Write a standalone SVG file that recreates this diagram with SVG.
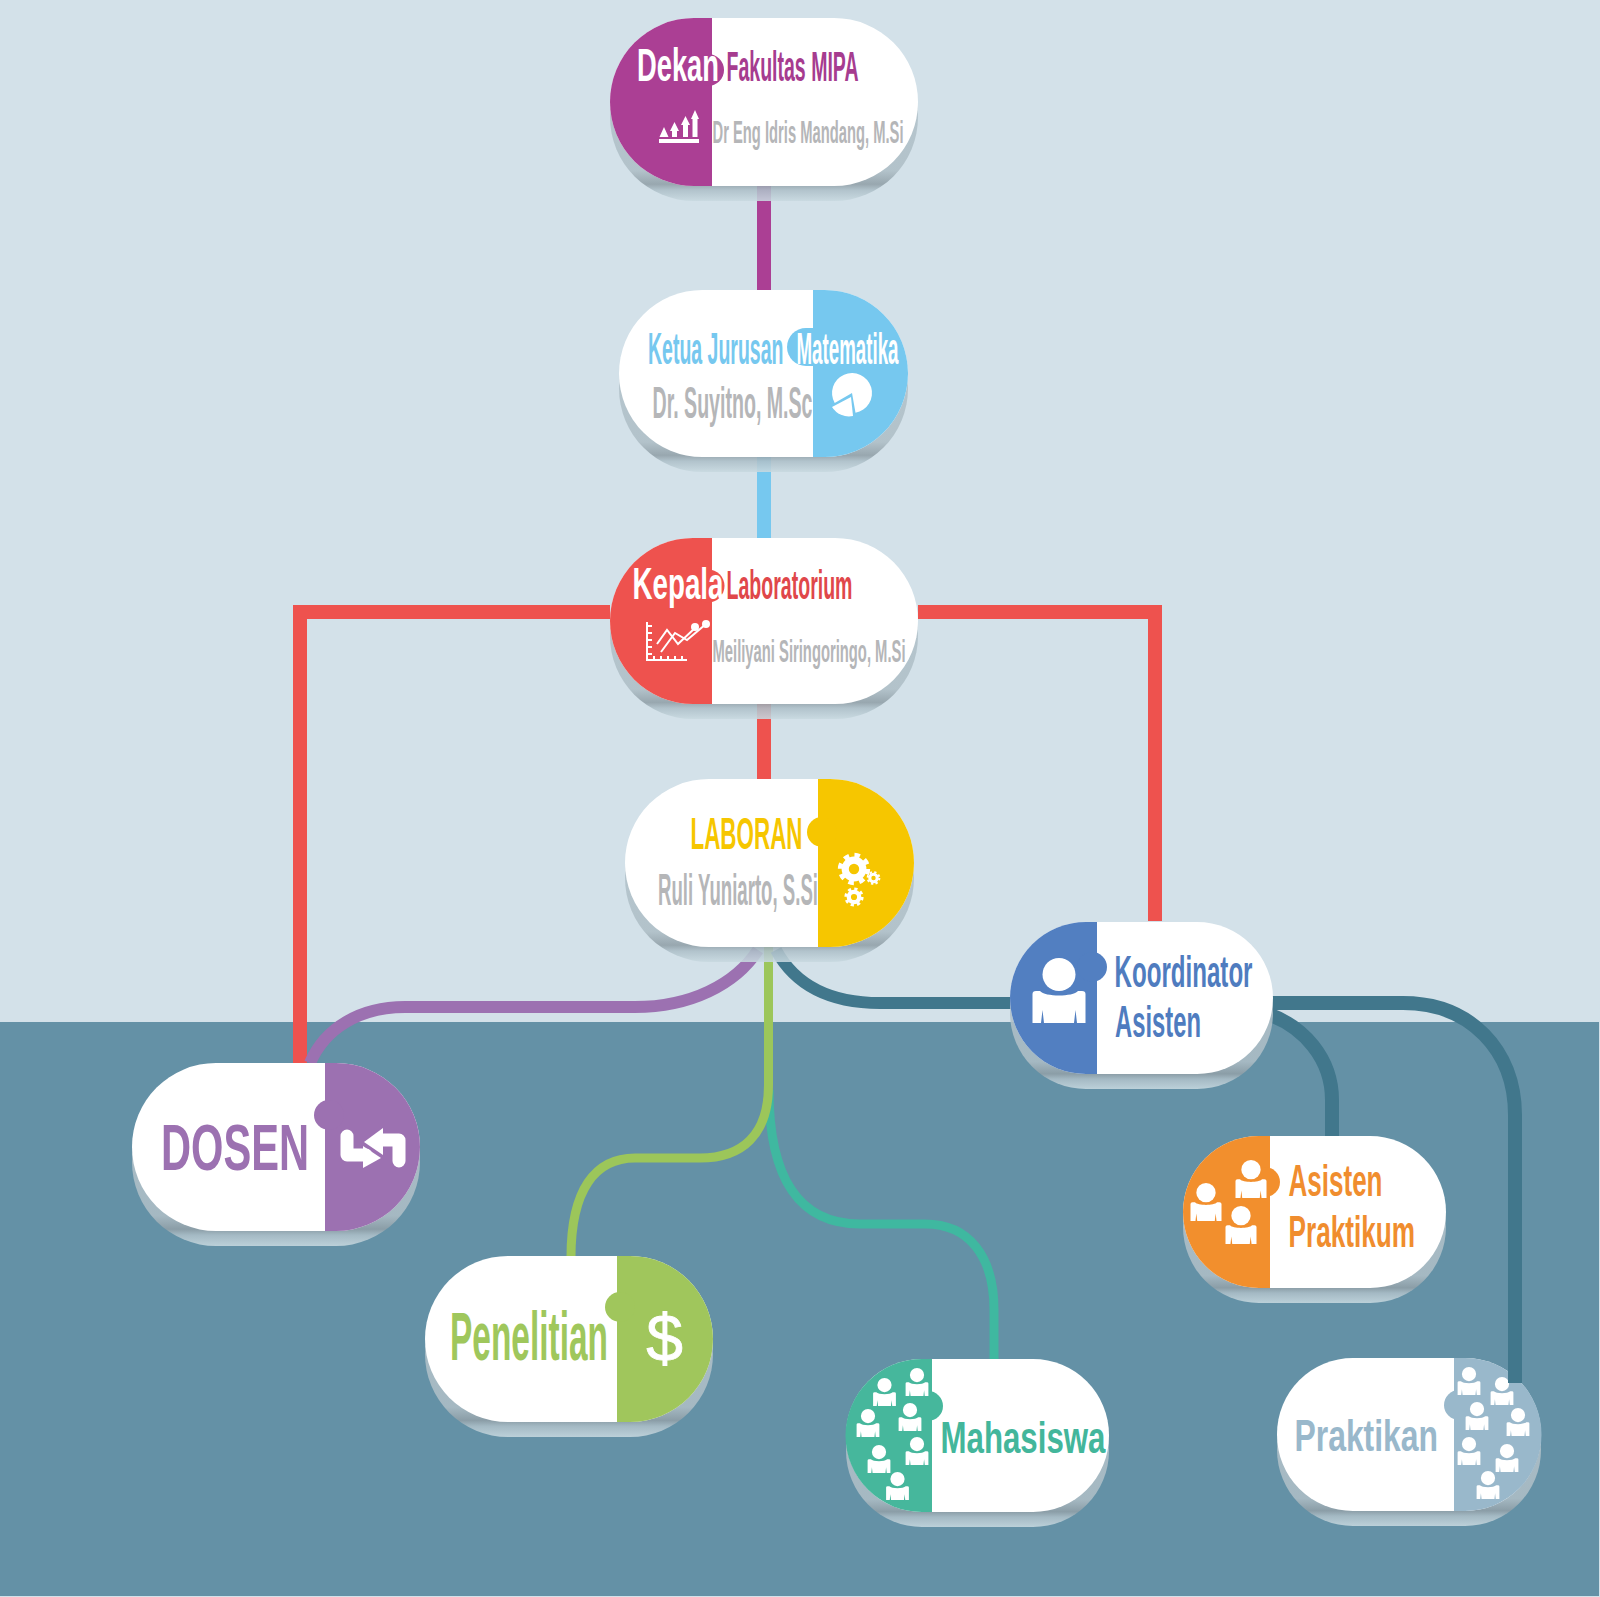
<svg xmlns="http://www.w3.org/2000/svg" xmlns:xlink="http://www.w3.org/1999/xlink" width="1600" height="1597" viewBox="0 0 1600 1597">
<style>
text{font-family:"Liberation Sans",Arial,sans-serif;font-weight:bold}
.w{fill:#fff}
.g{fill:#b5b6b8}
.sh{fill:url(#shade);fill-opacity:.88}
.c{fill:none;stroke-linecap:butt}
</style>
<defs>
<linearGradient id="shade" x1="0" y1="0" x2="0" y2="1">
<stop offset="0" stop-color="#b5c5cd"/><stop offset=".82" stop-color="#aebec6"/><stop offset=".9" stop-color="#909fa7"/><stop offset=".935" stop-color="#adbfc8"/><stop offset="1" stop-color="#c8d9e0"/>
</linearGradient>
<g id="person" fill="#fff">
<circle cx="0" cy="16.500" r="16.500"/>
<path d="M-26.500 36 Q-26.500 33 -23 33 H-19 C-14 39 14 39 19 33 H23 Q26.500 33 26.500 36 V65 H18 L16.500 52 L15 65 H-15 L-16.500 52 L-18 65 H-26.500 Z"/>
</g>
<g id="gear">
<circle r="5.500" fill="none" stroke="#fff" stroke-width="4.500"/>
<circle r="8.600" fill="none" stroke="#fff" stroke-width="3" stroke-dasharray="3.380 3.380"/>
</g>
</defs>

<rect id="page" x="0" y="0" width="1600" height="1597" fill="#d3e1e9"/>
<rect id="bg-bottom" x="0" y="1022" width="1599" height="574" fill="#6491a6"/>

<g id="node-praktikan">
<rect class="sh" x="1277" y="1373" width="264" height="153" rx="76"/>
<rect x="1277" y="1358" width="264" height="153" rx="76" fill="#fff"/>
<path d="M1454 1358 H1465 A76.500 76.500 0 0 1 1465 1511 H1454 Z" fill="#99b8cb"/>
<circle cx="1459" cy="1405" r="15" fill="#99b8cb"/>
<text x="1294.500" y="1451" font-size="44" fill="#99b8cb" textLength="143.500" lengthAdjust="spacingAndGlyphs">Praktikan</text>
<use xlink:href="#person" transform="translate(1469 1367) scale(.43)"/>
<use xlink:href="#person" transform="translate(1502 1377) scale(.43)"/>
<use xlink:href="#person" transform="translate(1477 1402) scale(.43)"/>
<use xlink:href="#person" transform="translate(1518 1408) scale(.43)"/>
<use xlink:href="#person" transform="translate(1469 1437) scale(.43)"/>
<use xlink:href="#person" transform="translate(1507 1444) scale(.43)"/>
<use xlink:href="#person" transform="translate(1488 1471) scale(.43)"/>
</g>

<g id="connectors" class="c">
<path d="M764 186 V290" stroke="#ab3f94" stroke-width="14"/>
<path d="M764 457 V538" stroke="#76c8ef" stroke-width="14"/>
<path d="M764 704 V779" stroke="#ee524e" stroke-width="14"/>
<path d="M610 612 H300 V1065" stroke="#ee524e" stroke-width="14"/>
<path d="M918 612 H1155 V921" stroke="#ee524e" stroke-width="14"/>
<path d="M758 950 C735 985 690 1007 635 1007 L405 1007 C360 1007 325 1028 310 1063" stroke="#9c71b1" stroke-width="12"/>
<path d="M769 1090 C769 1180 800 1224 860 1224 L925 1224 C968 1224 994 1255 994 1310 L994 1360" stroke="#3fb8a0" stroke-width="9"/>
<path d="M768.500 947 L768.500 1085 C768.500 1135 742 1158 700 1158 L635 1158 C595 1158 571 1190 571 1257" stroke="#9cc65a" stroke-width="9"/>
<path d="M776 950 C795 985 830 1003 880 1003 L1012 1003" stroke="#41778c" stroke-width="12"/>
<path d="M1270 1003 H1403 C1470 1003 1515 1050 1515 1115 V1383" stroke="#41778c" stroke-width="14"/>
<path d="M1262 1012 C1305 1025 1332 1060 1332 1100 L1332 1137" stroke="#41778c" stroke-width="14"/>
</g>

<g id="node-dekan">
<rect class="sh" x="610" y="33" width="308" height="168" rx="84"/>
<rect x="610" y="18" width="308" height="168" rx="84" fill="#fff"/>
<path d="M712 18 H694 A84 84 0 0 0 694 186 H712 Z" fill="#ab3f94"/>
<circle cx="708" cy="70" r="16" fill="#ab3f94"/>
<text class="w" transform="translate(637 81) scale(.594 1)" font-size="46">Dekan</text>
<text x="726.500" y="81" font-size="42" fill="#a63c8f" textLength="132" lengthAdjust="spacingAndGlyphs">Fakultas MIPA</text>
<text class="g" x="712.500" y="143" font-size="32" textLength="191" lengthAdjust="spacingAndGlyphs">Dr Eng Idris Mandang, M.Si</text>
<path fill="#fff" d="M659.500 137 L664 127 L668.500 137 Z M670 131 L674.500 122 L679 131 H677 V137 H672 V131 Z M681 125 L685.500 116 L690 125 H688 V137 H683 V125 Z M691 119 L695 110 L699 119 H697.500 V137 H692.500 V119 Z M659 139 H699 V143 H659 Z"/>
</g>

<g id="node-ketua">
<rect class="sh" x="619" y="305" width="289" height="167" rx="83.500"/>
<rect x="619" y="290" width="289" height="167" rx="83.500" fill="#fff"/>
<path d="M813 290 H824.500 A83.500 83.500 0 0 1 824.500 457 H813 Z" fill="#76c8ef"/>
<path d="M813 328 H806 A19 19 0 0 0 806 366 H813 Z" fill="#76c8ef"/>
<text transform="translate(648 364) scale(.4434 1)" font-size="44" fill="#76c8ef">Ketua Jurusan</text>
<text class="w" x="796.500" y="364" font-size="44" textLength="102" lengthAdjust="spacingAndGlyphs">Matematika</text>
<text class="g" x="652.500" y="418" font-size="44" textLength="160" lengthAdjust="spacingAndGlyphs">Dr. Suyitno, M.Sc</text>
<path fill="#fff" d="M852 393 L855.500 412.700 A20 20 0 1 0 834.700 403 Z"/>
<path fill="#fff" d="M851 397 L853 416 A20 20 0 0 1 832 407 Z"/>
</g>

<g id="node-kepala">
<rect class="sh" x="610" y="553" width="308" height="166" rx="83"/>
<rect x="610" y="538" width="308" height="166" rx="83" fill="#fff"/>
<path d="M712 538 H693 A83 83 0 0 0 693 704 H712 Z" fill="#ee524e"/>
<circle cx="708" cy="586" r="16.500" fill="#ee524e"/>
<text class="w" transform="translate(632.500 599) scale(.631 1)" font-size="44">Kepala</text>
<text x="726.500" y="599" font-size="40" fill="#e0474a" textLength="126" lengthAdjust="spacingAndGlyphs">Laboratorium</text>
<text class="g" x="712.500" y="662" font-size="32" textLength="193" lengthAdjust="spacingAndGlyphs">Meiliyani Siringoringo, M.Si</text>
<g fill="none" stroke="#fff" stroke-width="2">
<path d="M647 622 V660 H687 M647 626 H652 M647 633 H652 M647 640 H652 M647 647 H652 M647 654 H652 M654 660 V656 M661 660 V656 M668 660 V656 M675 660 V656 M682 660 V656"/>
<path d="M657 644 L667 630 L678 644 L695 628"/>
<path d="M661 652 L675 633 L687 640 L706 624"/>
</g>
<circle cx="695" cy="627" r="4" fill="#fff"/>
<circle cx="706" cy="624" r="4" fill="#fff"/>
</g>

<g id="node-laboran">
<rect class="sh" x="625" y="794" width="289" height="168" rx="84"/>
<rect x="625" y="779" width="289" height="168" rx="84" fill="#fff"/>
<path d="M818 779 H830 A84 84 0 0 1 830 947 H818 Z" fill="#f6c600"/>
<circle cx="822" cy="832" r="15" fill="#f6c600"/>
<text x="690.500" y="849" font-size="44" fill="#f6c600" textLength="112" lengthAdjust="spacingAndGlyphs">LABORAN</text>
<text class="g" x="658" y="905" font-size="44" textLength="160" lengthAdjust="spacingAndGlyphs">Ruli Yuniarto, S.Si</text>
<use xlink:href="#gear" transform="translate(854 869) scale(1.600)"/>
<use xlink:href="#gear" transform="translate(873.500 878) scale(.680)"/>
<use xlink:href="#gear" transform="translate(854 897) scale(.950)"/>
</g>

<g id="node-koordinator">
<rect class="sh" x="1010" y="937" width="263" height="152" rx="76"/>
<rect x="1010" y="922" width="263" height="152" rx="76" fill="#fff"/>
<path d="M1097 922 H1086 A76 76 0 0 0 1086 1074 H1097 Z" fill="#527fc1"/>
<circle cx="1092" cy="967" r="15" fill="#527fc1"/>
<text x="1114.500" y="987" font-size="44" fill="#4f7cbf" textLength="138" lengthAdjust="spacingAndGlyphs">Koordinator</text>
<text x="1115" y="1037" font-size="44" fill="#4f7cbf" textLength="86" lengthAdjust="spacingAndGlyphs">Asisten</text>
<use xlink:href="#person" transform="translate(1059 958)"/>
</g>

<g id="node-asisten">
<rect class="sh" x="1183" y="1151" width="263" height="152" rx="76"/>
<rect x="1183" y="1136" width="263" height="152" rx="76" fill="#fff"/>
<path d="M1270 1136 H1259 A76 76 0 0 0 1259 1288 H1270 Z" fill="#f28f2d"/>
<circle cx="1265" cy="1182" r="15" fill="#f28f2d"/>
<text x="1288.500" y="1196" font-size="44" fill="#f08d2e" textLength="94" lengthAdjust="spacingAndGlyphs">Asisten</text>
<text x="1288.500" y="1247" font-size="44" fill="#f08d2e" textLength="126.500" lengthAdjust="spacingAndGlyphs">Praktikum</text>
<use xlink:href="#person" transform="translate(1251 1160) scale(.585)"/>
<use xlink:href="#person" transform="translate(1206 1183) scale(.585)"/>
<use xlink:href="#person" transform="translate(1241 1206) scale(.585)"/>
</g>

<g id="node-dosen">
<rect class="sh" x="132" y="1078" width="288" height="168" rx="84"/>
<rect x="132" y="1063" width="288" height="168" rx="84" fill="#fff"/>
<path d="M325 1063 H336 A84 84 0 0 1 336 1231 H325 Z" fill="#9c71b1"/>
<circle cx="329" cy="1115" r="15" fill="#9c71b1"/>
<text x="161" y="1170" font-size="65" fill="#9c71b1" textLength="148" lengthAdjust="spacingAndGlyphs">DOSEN</text>
<path d="M347 1136 V1155 H366" fill="none" stroke="#fff" stroke-width="13" stroke-linejoin="round" stroke-linecap="round"/>
<path d="M399 1161 V1140 H380" fill="none" stroke="#fff" stroke-width="13" stroke-linejoin="round" stroke-linecap="round"/>
<path fill="#fff" d="M363 1146 L381 1158 L363 1168 Z"/>
<path fill="#fff" d="M383 1128 L364 1142 L383 1155 Z"/>
</g>

<g id="node-penelitian">
<rect class="sh" x="425" y="1271" width="288" height="166" rx="83"/>
<rect x="425" y="1256" width="288" height="166" rx="83" fill="#fff"/>
<path d="M617 1256 H630 A83 83 0 0 1 630 1422 H617 Z" fill="#a0c65c"/>
<circle cx="620" cy="1307" r="15" fill="#a0c65c"/>
<text transform="translate(450 1360) scale(.492 1)" font-size="68" fill="#9fc75c">Penelitian</text>
<text x="664.500" y="1361" font-size="66" fill="#fff" stroke="#fff" stroke-width=".8" text-anchor="middle" style="font-weight:normal">$</text>
</g>

<g id="node-mahasiswa">
<rect class="sh" x="846" y="1374" width="263" height="153" rx="76"/>
<rect x="846" y="1359" width="263" height="153" rx="76" fill="#fff"/>
<path d="M932 1359 H922 A76.500 76.500 0 0 0 922 1512 H932 Z" fill="#46b79c"/>
<circle cx="928" cy="1406" r="15" fill="#46b79c"/>
<text x="940.500" y="1453" font-size="44" fill="#43b69b" textLength="165" lengthAdjust="spacingAndGlyphs">Mahasiswa</text>
<use xlink:href="#person" transform="translate(917 1368) scale(.43)"/>
<use xlink:href="#person" transform="translate(884.500 1378) scale(.43)"/>
<use xlink:href="#person" transform="translate(910 1403) scale(.43)"/>
<use xlink:href="#person" transform="translate(868 1409) scale(.43)"/>
<use xlink:href="#person" transform="translate(917 1437) scale(.43)"/>
<use xlink:href="#person" transform="translate(879 1445) scale(.43)"/>
<use xlink:href="#person" transform="translate(897.500 1472) scale(.43)"/>
</g>
</svg>
